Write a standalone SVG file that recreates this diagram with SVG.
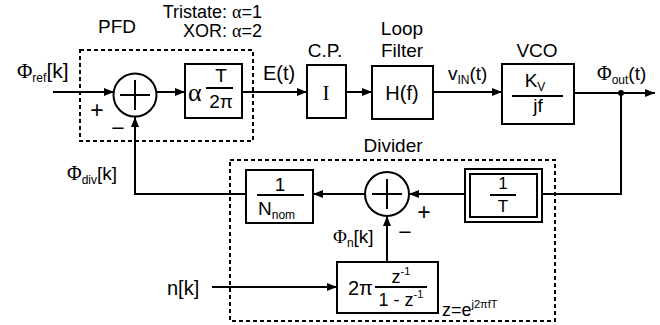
<svg xmlns="http://www.w3.org/2000/svg" width="660" height="325" viewBox="0 0 660 325">
<style>
.bx{fill:none;stroke:#000;stroke-width:2}
.ds{fill:none;stroke:#000;stroke-width:2;stroke-dasharray:4 3}
.ln{fill:none;stroke:#000;stroke-width:2}
.ar{fill:none;stroke:#000;stroke-width:2;marker-end:url(#ah)}
.t{font-family:"Liberation Sans",Arial,sans-serif;fill:#000}
.s{font-family:"Liberation Serif","Times New Roman",serif}
.sm{font-size:12px}
</style>
<defs>
<marker id="ah" markerUnits="userSpaceOnUse" markerWidth="10" markerHeight="8" refX="10" refY="4" orient="auto">
<path d="M0,0 L10,4 L0,8 Z" fill="#000"/>
</marker>
</defs>
<rect width="660" height="325" fill="#fff"/>

<g id="connectors">
<line class="ar" x1="53" y1="92" x2="114" y2="92"/>
<line class="ar" x1="157" y1="92" x2="185" y2="92"/>
<line class="ar" x1="242" y1="92" x2="307" y2="92"/>
<line class="ar" x1="346" y1="92" x2="372" y2="92"/>
<line class="ar" x1="433" y1="92" x2="502" y2="92"/>
<line class="ar" x1="574" y1="93" x2="655" y2="93"/>
<circle cx="621" cy="93" r="3" fill="#000"/>
<polyline class="ln" points="621,93 621,194 542,194"/>
<line class="ar" x1="465" y1="194" x2="409" y2="194"/>
<line class="ar" x1="365" y1="194" x2="313" y2="194"/>
<polyline class="ar" points="246,194 135,194 135,117"/>
<line class="ar" x1="387" y1="262" x2="387" y2="216"/>
<line class="ar" x1="212" y1="287" x2="337" y2="287"/>
</g>

<g id="labels" font-size="19">
<text class="t" x="17" y="78"><tspan class="s" font-size="21">Φ</tspan><tspan class="sm" dy="4">ref</tspan><tspan dy="-4" font-size="21">[k]</tspan></text>
<text class="t" x="263" y="80" font-size="20">E(t)</text>
<text class="t" x="448" y="80"><tspan>v</tspan><tspan class="sm" dy="4">IN</tspan><tspan dy="-4">(t)</tspan></text>
<text class="t" x="597" y="80"><tspan class="s" font-size="20">Φ</tspan><tspan class="sm" dy="4">out</tspan><tspan dy="-4">(t)</tspan></text>
<text class="t" x="67" y="180"><tspan class="s" font-size="20">Φ</tspan><tspan class="sm" dy="4">div</tspan><tspan dy="-4">[k]</tspan></text>
<text class="t" x="333" y="243"><tspan class="s" font-size="19">Φ</tspan><tspan class="sm" dy="4">n</tspan><tspan dy="-4">[k]</tspan></text>
<text class="t" x="167" y="295" font-size="20">n[k]</text>
<text class="t" x="97" y="118" text-anchor="middle" font-size="23">+</text>
<text class="t" x="118" y="136" text-anchor="middle" font-size="23">−</text>
<text class="t" x="424" y="220" text-anchor="middle" font-size="23">+</text>
<text class="t" x="405" y="240" text-anchor="middle" font-size="23">−</text>
</g>

<g id="pfd" font-size="19">
<rect class="ds" x="80" y="50" width="173" height="91"/>
<text class="t" x="117" y="33" text-anchor="middle">PFD</text>
<text class="t" x="262" y="18" text-anchor="end" font-size="18">Tristate: <tspan class="s">α</tspan>=1</text>
<text class="t" x="262" y="37" text-anchor="end" font-size="18">XOR: <tspan class="s">α</tspan>=2</text>
</g>

<g id="sum1">
<circle class="bx" cx="135" cy="95" r="21.5"/>
<line class="ln" x1="120" y1="95" x2="150" y2="95"/>
<line class="ln" x1="135" y1="80" x2="135" y2="110"/>
</g>

<g id="gain" font-size="19">
<rect class="bx" x="185" y="64" width="57" height="54"/>
<text class="t s" x="188" y="101" font-size="26">α</text>
<text class="t" x="221" y="82" text-anchor="middle">T</text>
<line class="ln" x1="206" y1="88" x2="233" y2="88" stroke-width="1.5"/>
<text class="t" x="221" y="108" text-anchor="middle">2π</text>
</g>

<g id="cp" font-size="19">
<text class="t" x="325" y="57" text-anchor="middle">C.P.</text>
<rect class="bx" x="307" y="65" width="39" height="53"/>
<text class="t s" x="326" y="100" text-anchor="middle" font-size="21">I</text>
</g>

<g id="loopfilter" font-size="19">
<text class="t" x="402" y="35" text-anchor="middle">Loop</text>
<text class="t" x="402" y="57" text-anchor="middle">Filter</text>
<rect class="bx" x="372" y="66" width="61" height="53"/>
<text class="t" x="402" y="100" text-anchor="middle" font-size="20">H(f)</text>
</g>

<g id="vco" font-size="19">
<text class="t" x="537" y="57" text-anchor="middle">VCO</text>
<rect class="bx" x="502" y="64" width="72" height="60"/>
<text class="t" x="535" y="87" text-anchor="middle">K<tspan class="sm" dy="4">V</tspan></text>
<line class="ln" x1="512" y1="96" x2="563" y2="96" stroke-width="1.5"/>
<text class="t" x="538" y="112" text-anchor="middle">jf</text>
</g>

<g id="divider" font-size="19">
<rect class="ds" x="230" y="160" width="325" height="161"/>
<text class="t" x="393" y="152" text-anchor="middle">Divider</text>
<text class="t" x="442" y="316" font-size="18">z=e<tspan font-size="11" dy="-8">j2πfT</tspan></text>
</g>

<g id="inv-t" font-size="17">
<rect class="bx" x="465" y="169" width="77" height="53"/>
<rect class="bx" x="470" y="174" width="67" height="43"/>
<text class="t" x="503" y="189" text-anchor="middle">1</text>
<line class="ln" x1="490" y1="195" x2="516" y2="195" stroke-width="1.5"/>
<text class="t" x="503" y="212" text-anchor="middle">T</text>
</g>

<g id="sum2">
<circle class="bx" cx="387" cy="194" r="22"/>
<line class="ln" x1="372" y1="194" x2="402" y2="194"/>
<line class="ln" x1="387" y1="179" x2="387" y2="209"/>
</g>

<g id="n-nom" font-size="19">
<rect class="bx" x="246" y="170" width="67" height="53"/>
<text class="t" x="280" y="191" text-anchor="middle">1</text>
<line class="ln" x1="257" y1="195" x2="304" y2="195" stroke-width="1.5"/>
<text class="t" x="258" y="215">N<tspan class="sm" dy="4">nom</tspan></text>
</g>

<g id="accumulator" font-size="18">
<rect class="bx" x="337" y="262" width="101" height="51"/>
<text class="t" x="348" y="295" font-size="20">2π</text>
<line class="ln" x1="375" y1="287" x2="427" y2="287" stroke-width="1.5"/>
<text class="t" x="401" y="283" text-anchor="middle">z<tspan font-size="11" dy="-8">-1</tspan></text>
<text class="t" x="401" y="306" text-anchor="middle">1 - z<tspan font-size="11" dy="-8">-1</tspan></text>
</g>
</svg>
